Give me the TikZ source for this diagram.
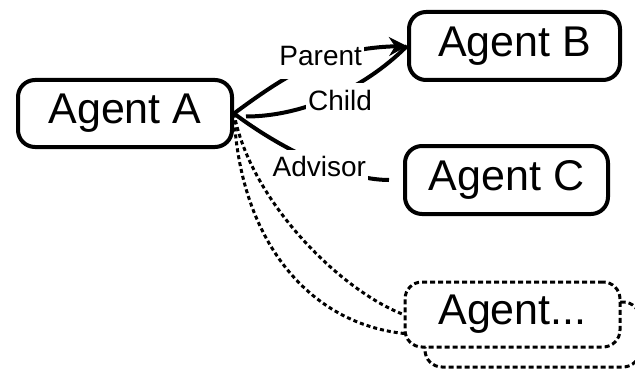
\documentclass[tikz,border=0pt]{standalone}
\usepackage{fontspec}
\setmainfont{Liberation Sans}
\usetikzlibrary{arrows.meta}
\begin{document}
\begin{tikzpicture}[x=1pt,y=-1pt,
  agent/.style={draw, line width=4pt, rounded corners=17pt, fill=white,
    inner sep=0pt, font=\fontsize{43}{50}\selectfont},
  ghost/.style={agent, line width=3pt, dash pattern=on 5pt off 3pt},
  lab/.style={fill=white, inner xsep=2pt, inner ysep=7pt, text height=20pt,
    text depth=6pt, font=\fontsize{28}{32}\selectfont},
  conn/.style={line width=4pt},
  dconn/.style={line width=3pt, dash pattern=on 4pt off 3pt}]
\useasboundingbox (0,0) rectangle (635,369);
\clip (0,0) rectangle (635,369);
\node[agent, minimum width=214pt, minimum height=67pt] (A) at (125,113.5) {Agent A};
\node[agent, minimum width=211pt, minimum height=68pt] (B) at (514.5,46) {Agent B};
\node[agent, minimum width=203pt, minimum height=68pt] (C) at (506.5,180) {Agent C};
\node[ghost, minimum width=215pt, minimum height=65pt] (Back) at (532.5,334.5) {};
\draw[dconn] (A.east) .. controls +(6,136.5) and +(-104,0) .. (Back.west);
\node[ghost, minimum width=215pt, minimum height=65pt] (Dots) at (512.5,314.5) {Agent...};
\draw[dconn] (A.east) .. controls +(16,86.5) and +(-64,-24.5) .. (Dots.west);
\draw[conn, -{Stealth[length=18pt,width=19pt,inset=6pt]}] (A.east)
  .. controls +(56,-41.5) and +(-77,2) .. node[lab, pos=0.55, yshift=3pt] (lp) {Parent} (B.west);
\draw[conn, shorten >=12pt] (B.west)
  .. controls +(-45,45) and +(66,0) .. node[lab, pos=0.45, xshift=3pt, yshift=-9pt] (lc) {Child} ([yshift=-3pt]A.east);
\draw[conn, shorten >=14pt] (A.east)
  .. controls +(45,34) and +(-60,0) .. node[lab, pos=0.52, xshift=3pt, yshift=-9pt] (la) {Advisor} (C.west);
\end{tikzpicture}
\end{document}
